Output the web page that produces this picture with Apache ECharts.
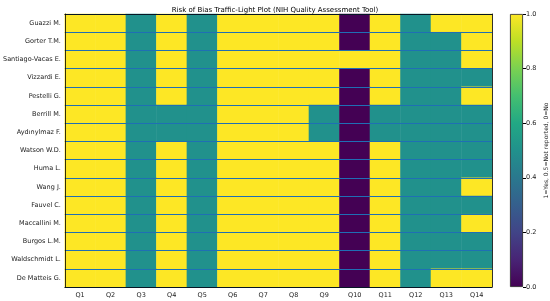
<!DOCTYPE html>
<html>
<head>
<meta charset="utf-8">
<script src="https://cdn.jsdelivr.net/npm/echarts@6/dist/echarts.min.js"></script>
<style>
  html, body { margin: 0; padding: 0; background: #fff; }
  #main { width: 550px; height: 301px; }
</style>
</head>
<body>
<div id="main"></div>
<script>
// questions (columns) and studies (rows, top to bottom)
var questions = ['Q1','Q2','Q3','Q4','Q5','Q6','Q7','Q8','Q9','Q10','Q11','Q12','Q13','Q14'];
var studies = ['Guazzi M.','Gorter T.M.','Santiago-Vacas E.','Vizzardi E.','Pestelli G.',
  'Berrill M.','Aydınylmaz F.','Watson W.D.','Huma L.','Wang J.','Fauvel C.',
  'Maccallini M.','Burgos L.M.','Waldschmidt L.','De Matteis G.'];
// 1=Yes, 0.5=Not reported, 0=No
var scores = [
  [1,1,0.5,1,0.5,1,1,1,1,0,1,0.5,1,1],
  [1,1,0.5,1,0.5,1,1,1,1,0,1,0.5,0.5,1],
  [1,1,0.5,1,0.5,1,1,1,1,1,1,0.5,0.5,1],
  [1,1,0.5,1,0.5,1,1,1,1,0,1,0.5,0.5,0.5],
  [1,1,0.5,1,0.5,1,1,1,1,0,1,0.5,0.5,1],
  [1,1,0.5,0.5,0.5,1,1,1,0.5,0,0.5,0.5,0.5,0.5],
  [1,1,0.5,0.5,0.5,1,1,1,0.5,0,0.5,0.5,0.5,0.5],
  [1,1,0.5,1,0.5,1,1,1,1,0,1,0.5,0.5,0.5],
  [1,1,0.5,1,0.5,1,1,1,1,0,1,0.5,0.5,0.5],
  [1,1,0.5,1,0.5,1,1,1,1,0,1,0.5,0.5,1],
  [1,1,0.5,1,0.5,1,1,1,1,0,1,0.5,0.5,0.5],
  [1,1,0.5,1,0.5,1,1,1,1,0,1,0.5,0.5,1],
  [1,1,0.5,1,0.5,1,1,1,1,0,1,0.5,0.5,0.5],
  [1,1,0.5,1,0.5,1,1,1,1,0,1,0.5,0.5,0.5],
  [1,1,0.5,1,0.5,1,1,1,1,0,1,0.5,1,1]
];
var cbTicks = [0, 0.2, 0.4, 0.6, 0.8, 1.0];

var viridis = ['#440154','#482475','#414487','#355f8d','#2a788e','#21918c',
  '#22a884','#44bf70','#7ad151','#bddf26','#fde725'];

var cells = [];
for (var r = 0; r < studies.length; r++) {
  for (var c = 0; c < questions.length; c++) {
    cells.push([c, r, scores[r][c]]);
  }
}

var font = 'DejaVu Sans, sans-serif';
var myChart = echarts.init(document.getElementById('main'), null, {renderer: 'canvas'});

option = {
  animation: false,
  title: {
    text: 'Risk of Bias Traffic-Light Plot (NIH Quality Assessment Tool)',
    left: 'center',
    top: 2,
    textStyle: {fontSize: 7, fontWeight: 'normal', color: '#000', fontFamily: font}
  },
  grid: [
    {left: 62, right: 58, top: 14, bottom: 14},
    {left: 510, width: 14, top: 14, bottom: 14}
  ],
  visualMap: {
    show: false,
    type: 'continuous',
    seriesIndex: 0,
    min: 0,
    max: 1,
    inRange: {color: viridis}
  },
  xAxis: [
    {
      type: 'category', gridIndex: 0, data: questions, z: 10,
      axisLine: {lineStyle: {color: '#000', width: 0.8}},
      axisTick: {alignWithLabel: true, length: 2, lineStyle: {color: '#000'}},
      axisLabel: {fontSize: 6.5, color: '#222', fontFamily: font, margin: 5},
      splitLine: {show: false}
    },
    {
      type: 'category', gridIndex: 0, data: questions, position: 'top', z: 10,
      axisLine: {lineStyle: {color: '#000', width: 0.8}},
      axisTick: {show: false}, axisLabel: {show: false}
    },
    {
      type: 'category', gridIndex: 1, data: ['cb'], show: false
    }
  ],
  yAxis: [
    {
      type: 'category', gridIndex: 0, data: studies, inverse: true, z: 10,
      axisLine: {lineStyle: {color: '#000', width: 0.8}},
      axisTick: {alignWithLabel: true, length: 2, lineStyle: {color: '#000'}},
      axisLabel: {fontSize: 6.5, color: '#222', fontFamily: font, margin: 4},
      splitLine: {show: false}
    },
    {
      // row separator lines drawn above the cells
      type: 'value', gridIndex: 0, min: 0, max: studies.length, interval: 1, z: 9,
      position: 'right',
      axisLine: {show: false}, axisTick: {show: false}, axisLabel: {show: false},
      splitLine: {show: true, lineStyle: {color: '#1f6fb4', width: 1}}
    },
    {
      type: 'category', gridIndex: 0, data: studies, position: 'right', z: 10,
      axisLine: {lineStyle: {color: '#000', width: 0.8}},
      axisTick: {show: false}, axisLabel: {show: false}
    },
    {
      type: 'value', gridIndex: 1, min: 0, max: 1, interval: 0.2, position: 'right',
      axisLine: {show: false},
      axisTick: {show: true, length: 3, lineStyle: {color: '#000'}},
      axisLabel: {fontSize: 6.5, color: '#222', fontFamily: font, margin: 3,
        formatter: function (v) { return v.toFixed(1); }},
      splitLine: {show: false},
      name: '1=Yes, 0.5=Not reported, 0=No',
      nameLocation: 'middle',
      nameRotate: 90,
      nameGap: 20,
      nameTextStyle: {fontSize: 6, color: '#222', fontFamily: font}
    }
  ],
  series: [
    {
      type: 'heatmap',
      xAxisIndex: 0,
      yAxisIndex: 0,
      data: cells,
      itemStyle: {borderWidth: 0}
    },
    {
      type: 'bar',
      xAxisIndex: 2,
      yAxisIndex: 3,
      barWidth: '100%',
      data: [cbTicks[cbTicks.length - 1]],
      itemStyle: {
        borderColor: '#222',
        borderWidth: 0.8,
        color: new echarts.graphic.LinearGradient(0, 1, 0, 0,
          viridis.map(function (col, i) { return {offset: i / (viridis.length - 1), color: col}; }))
      }
    }
  ]
};
myChart.setOption(option);
</script>
</body>
</html>
